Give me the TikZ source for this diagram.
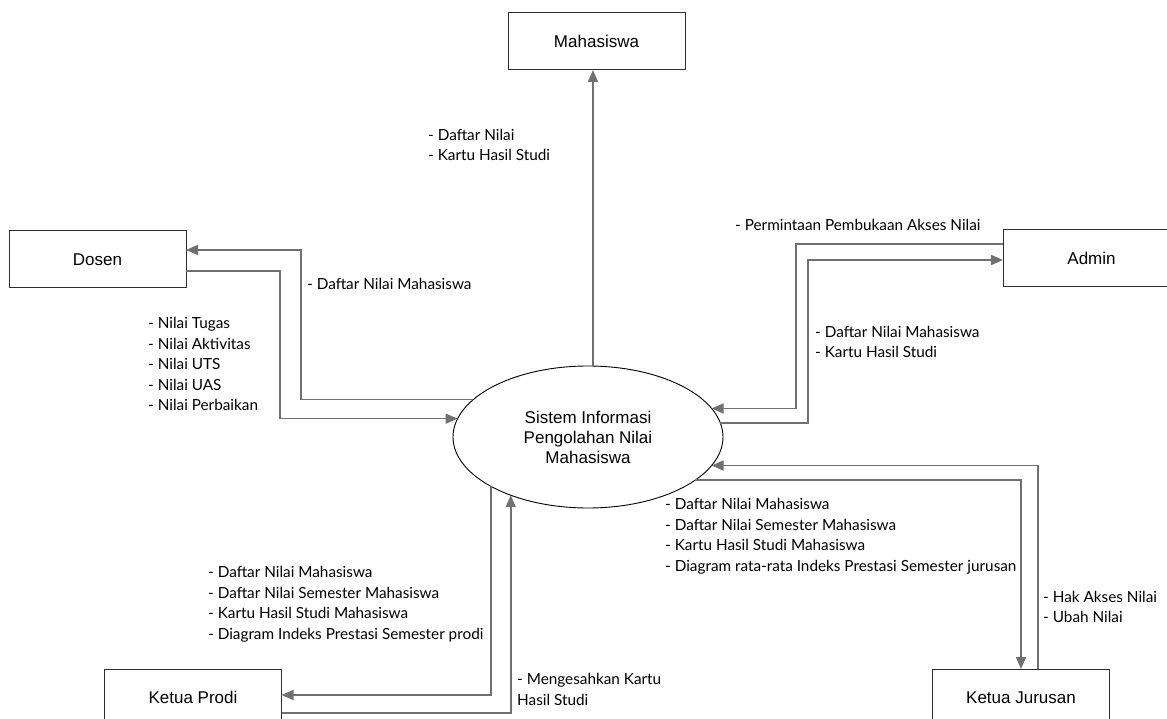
\documentclass[tikz,border=0pt]{standalone}
\usepackage{fontspec}
\setmainfont{Liberation Sans}
\newfontfamily\labelfont{Lato}
\usetikzlibrary{arrows.meta,shapes.geometric}
\definecolor{flowgray}{RGB}{112,112,112}
\definecolor{boxline}{RGB}{45,45,45}

\begin{document}
\begin{tikzpicture}[x=1pt,y=-1pt,
  entity/.style={draw=boxline, line width=1pt, minimum width=177pt, minimum height=57pt,
    inner sep=0pt, outer sep=0pt, font=\fontsize{17}{20}\selectfont},
  process/.style={ellipse, draw=black, line width=0.9pt, minimum width=270pt, minimum height=142pt,
    inner sep=0pt, outer sep=0pt, align=center, font=\fontsize{17}{20}\selectfont},
  flow/.style={draw=flowgray, line width=1.6pt, -{Triangle[length=12pt,width=10pt]}},
  lbl/.style={anchor=west, align=left, inner sep=0pt, font=\labelfont\fontsize{15.3}{20.5}\selectfont}]

\useasboundingbox (0,0) rectangle (1167,719);
\fill[white] (0,0) rectangle (1167,719);
\clip (0,0) rectangle (1167,719);

% external entities and the central process
\node[process] (sys) at (588,437) {Sistem Informasi\\Pengolahan Nilai\\Mahasiswa};
\node[entity] (mhs) at (596.5,41.5) {Mahasiswa};
\node[entity] (dosen) at (97.5,259.5) {Dosen};
\node[entity] (admin) at (1091.5,258.5) {Admin};
\node[entity] (prodi) at (193,697.5) {Ketua Prodi};
\node[entity] (jurusan) at (1021,697.5) {Ketua Jurusan};

% bend columns and connection points
\coordinate (kDosenIn) at (301,0);
\coordinate (kDosenOut) at (280,0);
\coordinate (kAdminIn) at (796,0);
\coordinate (kAdminOut) at (808,0);
\coordinate (dIn) at ([yshift=9.5pt]dosen.east);
\coordinate (dOut) at ([yshift=-11.5pt]dosen.east);
\coordinate (aOut) at ([yshift=14.5pt]admin.west);
\coordinate (aIn) at ([yshift=-1.5pt]admin.west);

% data flows
\draw[flow] (sys.86.78) -- (sys.86.78 |- mhs.south);
\draw[flow] (sys.162.81) -| (dIn -| kDosenIn) -- (dIn);
\draw[flow] (dOut) -| (sys.172.61 -| kDosenOut) -- (sys.172.61);
\draw[flow] (aOut) -| (sys.13.77 -| kAdminIn) -- (sys.13.77);
\draw[flow] (sys.6.94) -| (aIn -| kAdminOut) -- (aIn);
\draw[flow] (sys.-22.56) -| (jurusan.north);
\draw[flow] ([xshift=17pt]jurusan.north) |- (sys.-13.25);
\draw[flow] (sys.207.95) |- ([yshift=2.5pt]prodi.east);
\draw[flow] ([yshift=-15.5pt]prodi.east) -| (sys.217.13);

% flow labels
\node[lbl] (lMhs) at (428,145) {- Daftar Nilai\\- Kartu Hasil Studi};
\node[lbl] (lDosenIn) at (307,284) {- Daftar Nilai Mahasiswa};
\node[lbl] (lDosenOut) at (148,364) {- Nilai Tugas\\- Nilai Aktivitas\\- Nilai UTS\\- Nilai UAS\\- Nilai Perbaikan};
\node[lbl] (lAdminOut) at (735,225) {- Permintaan Pembukaan Akses Nilai};
\node[lbl] (lAdminIn) at (815,342) {- Daftar Nilai Mahasiswa\\- Kartu Hasil Studi};
\node[lbl] (lJurIn) at (665,536.5) {- Daftar Nilai Mahasiswa\\- Daftar Nilai Semester Mahasiswa\\- Kartu Hasil Studi Mahasiswa\\- Diagram rata-rata Indeks Prestasi Semester jurusan};
\node[lbl] (lJurOut) at (1043,607) {- Hak Akses Nilai\\- Ubah Nilai};
\node[lbl] (lProdiIn) at (208,604.5) {- Daftar Nilai Mahasiswa\\- Daftar Nilai Semester Mahasiswa\\- Kartu Hasil Studi Mahasiswa\\- Diagram Indeks Prestasi Semester prodi};
\node[lbl] (lProdiOut) at (517,689.5) {- Mengesahkan Kartu\\Hasil Studi};
\end{tikzpicture}
\end{document}
